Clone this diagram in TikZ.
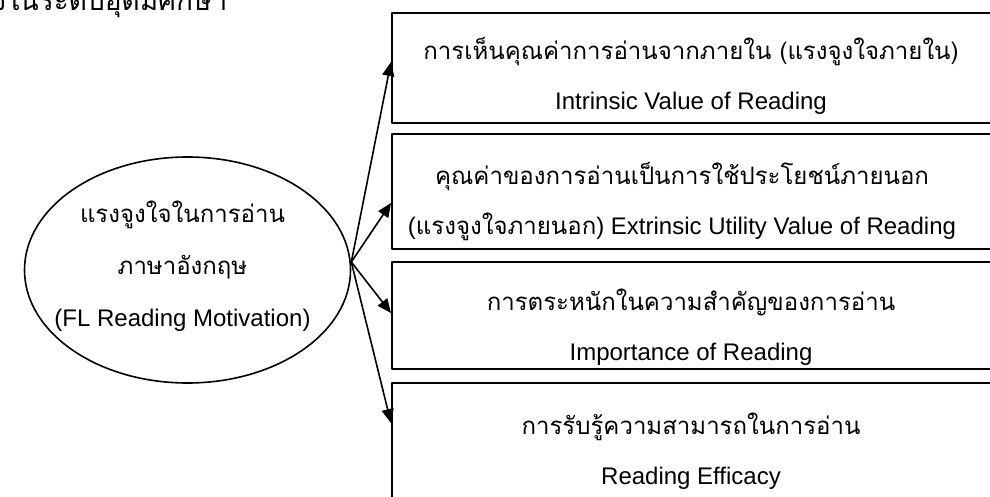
\documentclass[tikz,border=0pt]{standalone}
\usepackage{fontspec}
\setmainfont{Liberation Sans}
\newfontfamily\thaifont[Script=Thai]{Loma}
\usepackage{tikz}
\usetikzlibrary{arrows.meta,shapes.geometric,calc}

\tikzset{
  factorbox/.style={draw,line width=1pt,rectangle,inner sep=0pt,minimum width=302pt},
  boxtext/.style={align=center,font=\fontsize{12}{25}\selectfont},
  latent/.style={draw,line width=0.8pt,ellipse,inner sep=0pt,minimum width=163pt,minimum height=113pt},
  latenttext/.style={align=center,font=\fontsize{12}{26}\selectfont},
  path/.style={line width=0.8pt,-{Triangle[length=7pt,width=6pt]}}
}

\begin{document}
\begin{tikzpicture}[line cap=round,line join=round,x=0.5pt,y=-0.5pt]
\useasboundingbox (0,0) rectangle (990,497);
\clip (0,0) rectangle (990,497);
% cut-off line of the page above
\node[anchor=base west,inner sep=0pt,font=\fontsize{14}{16}\selectfont] (head) at (-8,11) {\thaifont งในระดับอุดมศึกษา};
% latent variable
\node[latent] (mot) at (187.5,270) {};
\node[latenttext] (mottext) at ([xshift=-2.5pt,yshift=2pt]mot.center) {{\thaifont แรงจูงใจในการอ่าน}\\{\thaifont ภาษาอังกฤษ}\\(FL Reading Motivation)};
% the four factors
\node[factorbox,minimum height=55pt] (b1) at (694,68) {};
\node[factorbox,minimum height=57.5pt] (b2) at (694,191.5) {};
\node[factorbox,minimum height=53.5pt] (b3) at (694,315.5) {};
\node[factorbox,minimum height=60pt] (b4) at (694,443) {};
\node[boxtext] (t1) at ([xshift=-1.5pt,yshift=-4pt]b1.center) {{\thaifont การเห็นคุณค่าการอ่านจากภายใน (แรงจูงใจภายใน)}\\Intrinsic Value of Reading};
\node[boxtext] (t2) at ([xshift=-6pt,yshift=-5pt]b2.center) {{\thaifont คุณค่าของการอ่านเป็นการใช้ประโยชน์ภายนอก}\\({\thaifont แรงจูงใจภายนอก}) Extrinsic Utility Value of Reading};
\node[boxtext] (t3) at ([xshift=-1.5pt,yshift=-6pt]b3.center) {{\thaifont การตระหนักในความสำคัญของการอ่าน}\\Importance of Reading};
\node[boxtext] (t4) at ([xshift=-1.5pt,yshift=-4pt]b4.center) {{\thaifont การรับรู้ความสามารถในการอ่าน}\\Reading Efficacy};
% paths
\coordinate (src) at ([yshift=4pt]mot.east);
\draw[path] (src) -- ([yshift=3pt]b1.west);
\draw[path] (src) -- ([yshift=-5.75pt]b2.west);
\draw[path] (src) -- ([yshift=1.25pt]b3.west);
\draw[path] (src) -- ([yshift=10pt]b4.west);
\end{tikzpicture}
\end{document}
